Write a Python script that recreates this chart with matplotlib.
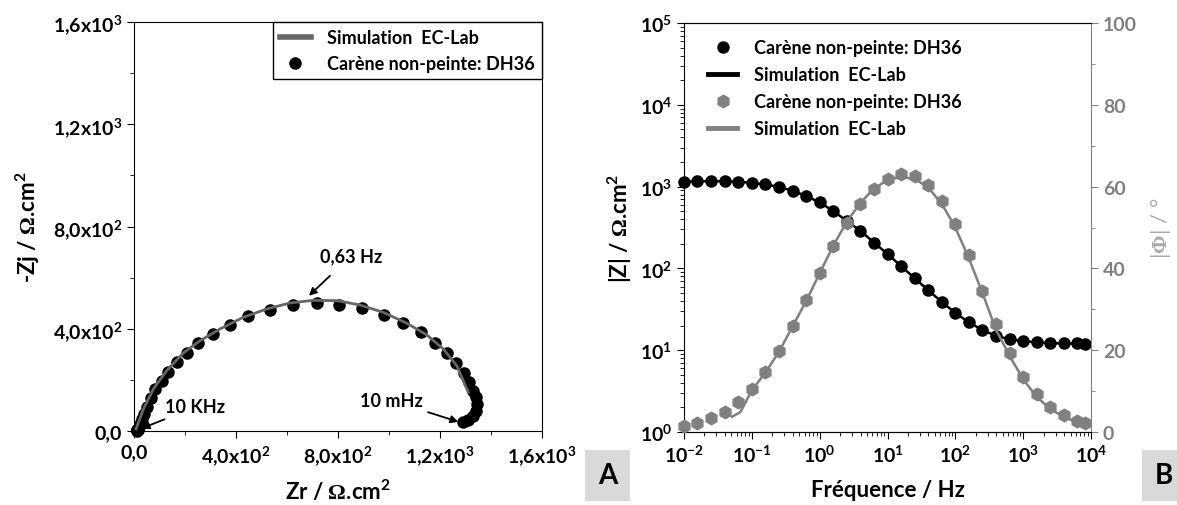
import matplotlib
matplotlib.use('Agg')
import matplotlib.pyplot as plt
from matplotlib.lines import Line2D
from matplotlib.ticker import FixedLocator, MultipleLocator, LogLocator, NullFormatter

plt.rcParams['font.family'] = ['Lato', 'DejaVu Sans']
plt.rcParams['font.weight'] = 'bold'
plt.rcParams['axes.labelweight'] = 'bold'
plt.rcParams['mathtext.fontset'] = 'custom'
plt.rcParams['mathtext.rm'] = 'Lato:bold'
plt.rcParams['mathtext.bf'] = 'Lato:bold'
plt.rcParams['mathtext.sf'] = 'Liberation Serif'
plt.rcParams['mathtext.default'] = 'rm'

# --- Nyquist (A) ---
zr_data = [12, 12, 13, 13, 14, 16, 19, 24, 31, 40, 52, 66, 82, 109, 135, 167, 207, 252, 309, 376,
           448, 533, 622, 716, 805, 895, 982, 1056, 1124, 1181, 1226, 1263, 1294, 1315, 1331,
           1341, 1344, 1341, 1331, 1311, 1289]
zj_data = [1, 2, 3, 4, 5, 9, 16, 28, 45, 68, 95, 128, 164, 197, 230, 269, 305, 344, 381, 416,
           449, 475, 493, 500, 494, 480, 454, 422, 386, 344, 305, 266, 227, 190, 158,
           132, 106, 79, 57, 44, 36]
zr_sim = [8, 37, 76, 128, 193, 259, 337, 429, 520, 612, 703, 795, 886, 978, 1069, 1148, 1213, 1266, 1311]
zj_sim = [8, 86, 164, 236, 305, 353, 399, 445, 477, 501, 511, 510, 493, 464, 422, 376, 321, 255, 151]
ny_ticks = [0, 400, 800, 1200, 1600]
ny_labels = ['0,0', r'4,0x10$^2$', r'8,0x10$^2$', r'1,2x10$^3$', r'1,6x10$^3$']

# --- Bode (B) ---
freq = [0.01, 0.0158, 0.0251, 0.0398, 0.0631, 0.1, 0.158, 0.251, 0.398, 0.631, 1.0, 1.58, 2.51,
        3.98, 6.31, 10, 15.8, 25.1, 39.8, 63.1, 100, 158, 251, 398, 631, 1000, 1580, 2510,
        3980, 6310, 8200]
zmod = [1150, 1170, 1170, 1160, 1150, 1110, 1070, 990, 890, 770, 640, 510, 380, 290, 207, 150,
        106, 76, 54, 39, 28.5, 22, 17.5, 15.0, 13.7, 12.9, 12.5, 12.3, 12.2, 12.1, 12.0]
phase = [1.5, 2.2, 3.4, 4.9, 7.3, 10.5, 14.7, 19.7, 25.9, 32.2, 38.9, 45.4, 51.2, 55.8, 59.4,
         61.8, 63.0, 62.6, 60.5, 56.5, 50.8, 43.3, 34.5, 26.4, 19.3, 13.5, 9.2, 6.0, 4.1, 2.8, 2.2]
freq_sim = [0.01, 0.0158, 0.0251, 0.0398, 0.0631, 0.1, 0.158, 0.251, 0.398, 0.631, 1.0, 1.58,
            2.51, 3.98, 6.31, 10, 15.8, 25.1, 39.8, 63.1, 100, 158, 251, 398, 631, 1000, 1580,
            2510, 3980, 6310, 9600]
zmod_sim = [1150, 1165, 1165, 1160, 1150, 1110, 1065, 990, 890, 770, 640, 505, 380, 288, 207,
            150, 107, 76, 54, 39, 28.5, 22, 17.6, 15.0, 13.6, 12.9, 12.5, 12.2, 12.1, 12.0, 11.9]
fph_sim = [0.051, 0.068, 0.1, 0.158, 0.251, 0.398, 0.631, 1.0, 1.58, 2.51, 3.98, 6.31, 10, 15.8,
           25.1, 39.8, 63.1, 100, 158, 251, 398, 631, 1000, 1580, 2510, 3980, 6310, 9600]
phase_sim = [3.7, 4.9, 10.2, 14.5, 19.6, 25.8, 32.0, 38.8, 45.5, 51.4, 56.0, 59.5, 61.6, 62.3,
             61.9, 59.8, 55.8, 50.0, 42.5, 34.0, 25.0, 18.6, 12.9, 8.6, 5.6, 3.7, 2.3, 1.5]

GRAY = '#808080'
DGRAY = '#666666'
TICK_FS = 14
LEG_FS = 13

fig = plt.figure(figsize=(11.77, 5.06), dpi=100)
axA = fig.add_axes([134/1177, 74/506, 408/1177, 409/506])
axB = fig.add_axes([684/1177, 73/506, 407/1177, 409/506])

# ---- panel A
axA.plot(zr_sim, zj_sim, color=DGRAY, lw=2, zorder=3)
axA.plot(zr_data, zj_data, 'o', color='black', ms=8, zorder=2, clip_on=False)
axA.set_xlim(0, 1600)
axA.set_ylim(0, 1600)
axA.xaxis.set_major_locator(FixedLocator(ny_ticks))
axA.yaxis.set_major_locator(FixedLocator(ny_ticks))
axA.set_xticklabels(ny_labels)
axA.set_yticklabels(ny_labels)
axA.xaxis.set_minor_locator(MultipleLocator(200))
axA.yaxis.set_minor_locator(MultipleLocator(200))
axA.tick_params(which='both', direction='out', labelsize=TICK_FS)
axA.tick_params(which='major', length=5)
axA.tick_params(which='minor', length=3)
axA.set_xlabel(r'Zr / $\mathsf{\Omega}$.cm$^2$', fontsize=16, labelpad=8)
axA.set_ylabel(r'-Zj / $\mathsf{\Omega}$.cm$^2$', fontsize=16, labelpad=8)

arw = dict(arrowstyle='-|>', color='black', lw=1.3, mutation_scale=11)
axA.annotate('0,63 Hz', xy=(686, 529), xytext=(851, 685), fontsize=LEG_FS, ha='center', va='center',
             arrowprops=dict(arw, shrinkA=9, shrinkB=0))
axA.annotate('10 KHz', xy=(30, 10), xytext=(122, 94), fontsize=LEG_FS, ha='left', va='center',
             arrowprops=dict(arw, shrinkA=2, shrinkB=0))
axA.annotate('10 mHz', xy=(1272, 36), xytext=(1132, 119), fontsize=LEG_FS, ha='right', va='center',
             arrowprops=dict(arw, shrinkA=2, shrinkB=0))

hA = [Line2D([], [], color=DGRAY, lw=4),
      Line2D([], [], marker='o', ls='none', color='black', ms=8)]
legA = axA.legend(hA, ['Simulation  EC-Lab', 'Carène non-peinte: DH36'], loc='upper right',
                  fancybox=False, edgecolor='black', framealpha=1, borderaxespad=0,
                  fontsize=LEG_FS, handlelength=1.7, handletextpad=0.9, labelspacing=0.5,
                  borderpad=0.4)
legA.get_frame().set_linewidth(1.0)

# ---- panel B
axB.set_xscale('log')
axB.set_yscale('log')
axB.plot(freq_sim, zmod_sim, color='black', lw=1.8, zorder=2)
axB.plot(freq, zmod, 'o', color='black', ms=8, zorder=3, clip_on=False)
axB.set_xlim(1e-2, 1e4)
axB.set_ylim(1, 1e5)
axB.xaxis.set_major_locator(LogLocator(base=10, numticks=10))
axB.yaxis.set_major_locator(LogLocator(base=10, numticks=10))
axB.xaxis.set_minor_locator(LogLocator(base=10, subs=range(2, 10), numticks=20))
axB.yaxis.set_minor_locator(LogLocator(base=10, subs=range(2, 10), numticks=20))
axB.xaxis.set_minor_formatter(NullFormatter())
axB.yaxis.set_minor_formatter(NullFormatter())
axB.tick_params(which='both', direction='out', labelsize=TICK_FS)
axB.tick_params(which='major', length=5)
axB.tick_params(which='minor', length=3)
axB.spines['right'].set_visible(False)
axB.set_xlabel('Fréquence / Hz', fontsize=16, labelpad=10)
axB.set_ylabel(r'|Z| / $\mathsf{\Omega}$.cm$^2$', fontsize=16, labelpad=4)

axP = axB.twinx()
axP.plot(fph_sim, phase_sim, color=GRAY, lw=1.8, zorder=2)
axP.plot(freq, phase, 'h', color=GRAY, ms=9, zorder=3, clip_on=False)
axP.set_ylim(0, 100)
axP.yaxis.set_major_locator(MultipleLocator(20))
axP.yaxis.set_minor_locator(MultipleLocator(10))
axP.tick_params(which='both', direction='out', colors=GRAY, labelsize=TICK_FS)
axP.tick_params(which='major', length=5)
axP.tick_params(which='minor', length=3)
axP.spines['right'].set_color(GRAY)
axP.spines['left'].set_visible(False)
axP.set_ylabel(r'|$\mathsf{\Phi}$| / °', fontsize=16, color='#aaaaaa', fontweight='normal',
               labelpad=8)

hB = [Line2D([], [], marker='o', ls='none', color='black', ms=8),
      Line2D([], [], color='black', lw=3.5),
      Line2D([], [], marker='h', ls='none', color=GRAY, ms=9),
      Line2D([], [], color=GRAY, lw=3.5)]
axP.legend(hB, ['Carène non-peinte: DH36', 'Simulation  EC-Lab', 'Carène non-peinte: DH36',
                'Simulation  EC-Lab'], loc='upper left', frameon=False, fontsize=LEG_FS,
           handlelength=1.6, handletextpad=0.9, labelspacing=0.55, bbox_to_anchor=(0.02, 1.0))

# panel letters
for x0, w, letter in [(586, 43, 'A'), (1144, 40, 'B')]:
    fig.text((x0 + w / 2) / 1177, 1 - 476 / 506, letter, fontsize=20, ha='center', va='center',
             bbox=dict(boxstyle='square,pad=0.45', facecolor='#d9d9d9', edgecolor='none'))

fig.savefig('out.png', dpi=100)
